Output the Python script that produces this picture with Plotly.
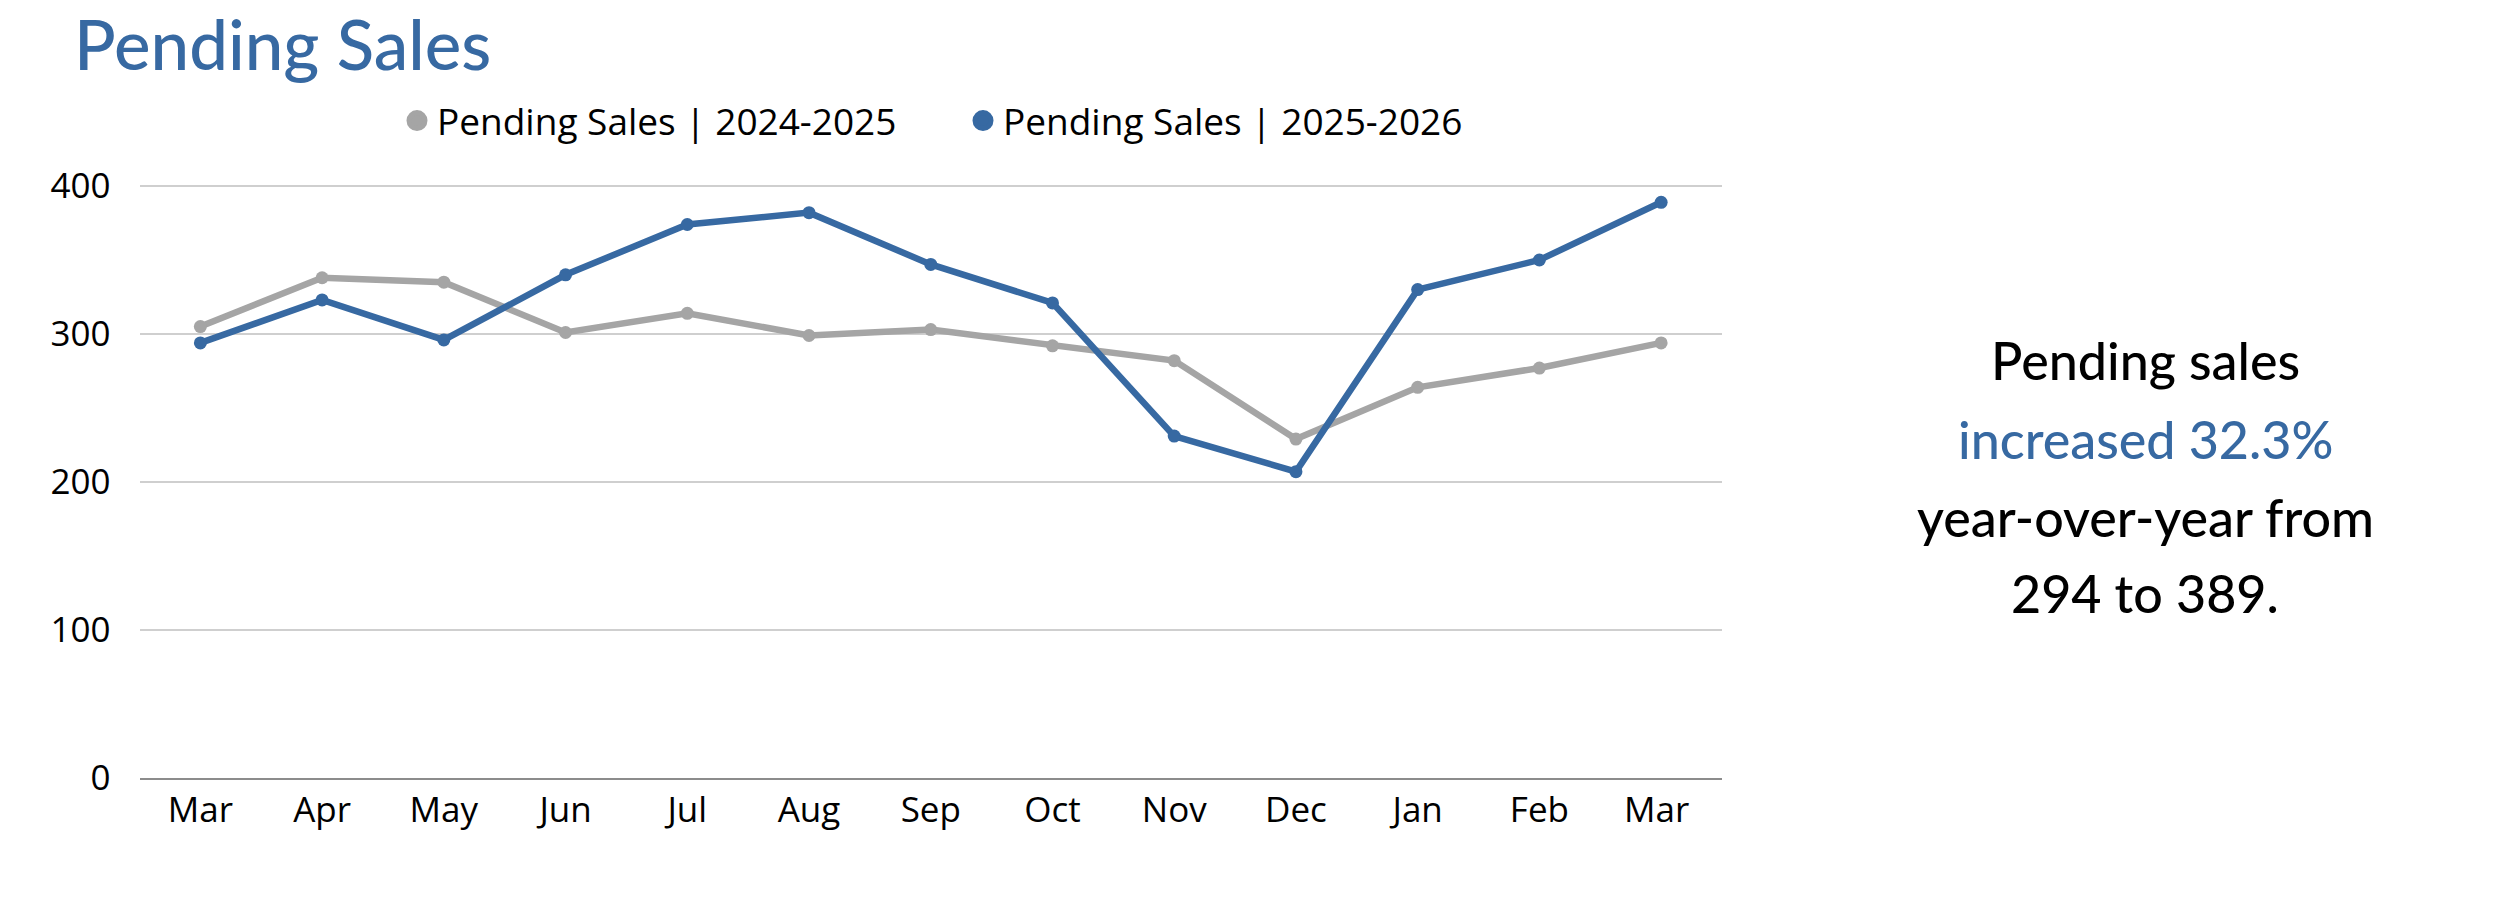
import plotly.graph_objects as go

months = ["Mar", "Apr", "May", "Jun", "Jul", "Aug", "Sep", "Oct", "Nov", "Dec", "Jan", "Feb", "Mar "]
sales_2024_2025 = [305, 338, 335, 301, 314, 299, 303, 292, 282, 229, 264, 277, 294]
sales_2025_2026 = [294, 323, 296, 340, 374, 382, 347, 321, 231, 207, 330, 350, 389]
series_names = ["Pending Sales | 2024-2025", "Pending Sales | 2025-2026"]
y_ticks = [0, 100, 200, 300, 400]
y_range = [0, 402]

GRAY = "#A5A5A5"
BLUE = "#3769A2"
W, H = 2500, 909

# plot area geometry (pixels from top-left)
X0, X1 = 139.5, 1722
Y_ZERO, Y_400 = 778, 186
px_per_unit = (Y_ZERO - Y_400) / 400.0
Y_TOP = Y_ZERO - px_per_unit * y_range[1]

fig = go.Figure()
for vals, name, col in [(sales_2024_2025, series_names[0], GRAY),
                        (sales_2025_2026, series_names[1], BLUE)]:
    fig.add_trace(go.Scatter(
        x=months, y=vals, mode="lines+markers", name=name,
        line=dict(color=col, width=6.5),
        marker=dict(color=col, size=13),
        showlegend=False, hoverinfo="x+y+name"))
    # legend entry (circle only)
    fig.add_trace(go.Scatter(
        x=[None], y=[None], mode="markers", name=name,
        marker=dict(color=col, size=30, line=dict(color=col, width=5)),
        showlegend=True))

fig.update_layout(
    width=W, height=H,
    margin=dict(l=0, r=0, t=0, b=0, autoexpand=False),
    paper_bgcolor="white", plot_bgcolor="white",
    font=dict(family="Open Sans", color="black", size=35),
    showlegend=True,
    legend=dict(orientation="h", x=397 / W, xanchor="left",
                y=1 - 121 / H, yanchor="middle",
                font=dict(family="Open Sans", size=37, color="black"),
                entrywidth=521, entrywidthmode="pixels",
                itemsizing="trace", bgcolor="rgba(0,0,0,0)"),
    xaxis=dict(domain=[X0 / W, X1 / W], type="category",
               range=[-0.5, len(months) - 0.5],
               showgrid=False, showline=True, linecolor="#8C8C8C", linewidth=2,
               ticks="", tickfont=dict(size=35, family="Open Sans"),
               ticklabelstandoff=0, zeroline=False, fixedrange=True,
               automargin=False),
    yaxis=dict(domain=[(H - Y_ZERO) / H, (H - Y_TOP) / H], range=y_range,
               tickvals=y_ticks, showgrid=True, gridcolor="#CFCFCF", gridwidth=2,
               showline=False, zeroline=False, ticks="",
               tickfont=dict(size=35, family="Open Sans"),
               ticklabelstandoff=28, fixedrange=True, automargin=False),
)

# Title
fig.add_annotation(text="Pending Sales", xref="paper", yref="paper",
                   x=72 / W, y=1, xanchor="left", yanchor="top",
                   showarrow=False,
                   font=dict(family="Lato", size=69, color=BLUE, weight=500))

# Commentary text on the right
lines = [("Pending sales", "black"),
         ("increased 32.3%", BLUE),
         ("year-over-year from", "black"),
         ("294 to 389.", "black")]
centers = [360, 439, 517, 593]
for (txt, col), yc in zip(lines, centers):
    fig.add_annotation(text=txt, xref="paper", yref="paper",
                       x=2145 / W, y=1 - yc / H, xanchor="center", yanchor="middle",
                       showarrow=False,
                       font=dict(family="Lato", size=52, color=col, weight=500))

fig.write_html("out.html", config={"displayModeBar": False},
               post_script="document.body.style.margin='0px';")
